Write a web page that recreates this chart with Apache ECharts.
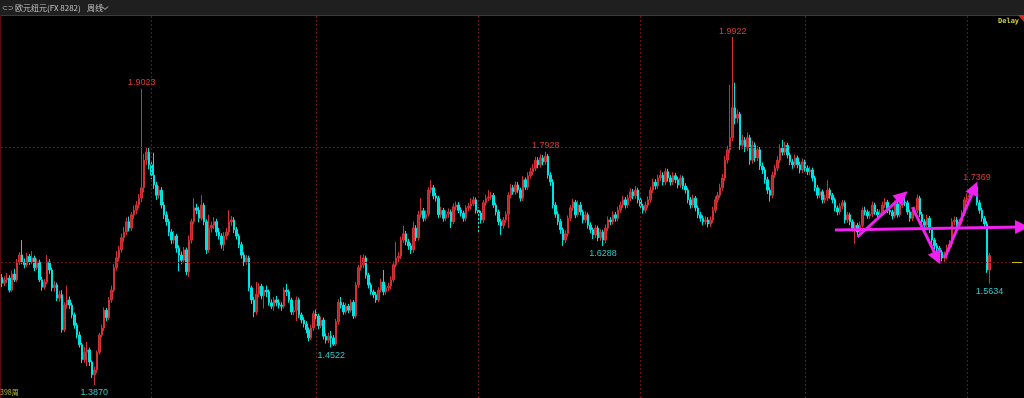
<!DOCTYPE html>
<html><head><meta charset="utf-8">
<script src="https://cdn.jsdelivr.net/npm/echarts/dist/echarts.min.js"></script>
<style>html,body{margin:0;padding:0;background:#000;}#c{width:1024px;height:398px;}</style>
</head><body><div id="c"></div>
<script>
// ---- data (weekly OHLC) ----
const firstOpen = 1.574;
const closes = [
1.564,1.570,1.573,1.552,1.580,1.570,1.601,1.613,1.601,1.596,
1.611,1.601,1.608,1.591,1.601,1.570,1.557,1.566,1.601,1.587,
1.556,1.561,1.538,1.544,1.483,1.526,1.535,1.526,1.509,1.491,
1.474,1.457,1.431,1.444,1.448,1.427,1.405,1.413,1.444,1.474,
1.486,1.517,1.504,1.535,1.552,1.591,1.608,1.622,1.643,1.653,
1.671,1.660,1.683,1.691,1.700,1.712,1.730,1.778,1.792,1.770,
1.752,1.735,1.717,1.726,1.700,1.683,1.671,1.653,1.639,1.646,
1.625,1.613,1.604,1.622,1.584,1.639,1.671,1.695,1.691,1.677,
1.700,1.671,1.622,1.660,1.665,1.671,1.653,1.646,1.631,1.646,
1.653,1.671,1.674,1.657,1.646,1.631,1.613,1.601,1.608,1.556,
1.535,1.514,1.545,1.559,1.542,1.552,1.549,1.530,1.524,1.535,
1.530,1.526,1.524,1.552,1.549,1.535,1.514,1.517,1.535,1.509,
1.500,1.493,1.483,1.469,1.486,1.511,1.507,1.490,1.500,1.472,
1.465,1.472,1.469,1.458,1.497,1.531,1.526,1.514,1.524,1.517,
1.531,1.507,1.561,1.591,1.596,1.608,1.578,1.561,1.549,1.544,
1.535,1.552,1.566,1.549,1.556,1.559,1.570,1.596,1.608,1.611,
1.639,1.650,1.636,1.629,1.622,1.660,1.643,1.683,1.690,1.677,
1.684,1.726,1.730,1.716,1.712,1.683,1.691,1.677,1.684,1.688,
1.671,1.697,1.700,1.691,1.686,1.677,1.695,1.698,1.702,1.709,
1.691,1.686,1.674,1.704,1.712,1.714,1.717,1.700,1.688,1.671,
1.664,1.674,1.684,1.717,1.730,1.723,1.735,1.726,1.712,1.744,
1.731,1.751,1.758,1.764,1.778,1.770,1.782,1.775,1.785,1.752,
1.740,1.700,1.684,1.671,1.657,1.639,1.650,1.677,1.695,1.705,
1.683,1.700,1.688,1.674,1.683,1.665,1.657,1.648,1.660,1.643,
1.653,1.639,1.660,1.674,1.671,1.683,1.677,1.691,1.700,1.709,
1.700,1.712,1.723,1.716,1.726,1.709,1.698,1.691,1.700,1.709,
1.726,1.740,1.733,1.747,1.752,1.740,1.758,1.747,1.740,1.751,
1.744,1.735,1.747,1.733,1.726,1.709,1.700,1.712,1.695,1.683,
1.677,1.671,1.674,1.667,1.674,1.691,1.709,1.717,1.730,1.747,
1.778,1.796,1.817,1.869,1.851,1.858,1.804,1.813,1.799,1.817,
1.778,1.804,1.782,1.796,1.768,1.761,1.744,1.726,1.717,1.752,
1.764,1.778,1.799,1.792,1.804,1.787,1.775,1.770,1.782,1.770,
1.761,1.775,1.764,1.758,1.761,1.747,1.730,1.717,1.723,1.709,
1.712,1.726,1.717,1.709,1.695,1.688,1.698,1.704,1.674,1.683,
1.671,1.660,1.665,1.653,1.665,1.691,1.688,1.681,1.684,1.700,
1.688,1.683,1.686,1.700,1.705,1.691,1.688,1.681,1.702,1.683,
1.700,1.705,1.704,1.688,1.677,1.688,1.691,1.712,1.684,1.671,
1.665,1.677,1.657,1.639,1.629,1.625,1.618,1.608,1.613,1.625,
1.632,1.671,1.674,1.664,1.671,1.686,1.709,1.714,1.717,1.726,
1.731,1.704,1.691,1.677,1.667,1.587,1.612
];
const highs = [
1.580,1.576,1.582,1.578,1.586,1.589,1.606,1.618,1.639,1.607,
1.617,1.615,1.620,1.612,1.607,1.605,1.575,1.571,1.613,1.606,
1.591,1.568,1.565,1.551,1.552,1.531,1.560,1.541,1.530,1.513,
1.495,1.480,1.460,1.453,1.462,1.452,1.430,1.419,1.447,1.478,
1.492,1.522,1.521,1.540,1.560,1.597,1.620,1.629,1.650,1.662,
1.678,1.680,1.688,1.699,1.707,1.719,1.9023,1.789,1.800,1.799,
1.778,1.791,1.740,1.733,1.731,1.705,1.689,1.676,1.658,1.655,
1.650,1.630,1.619,1.627,1.626,1.647,1.676,1.712,1.702,1.697,
1.717,1.704,1.675,1.683,1.671,1.679,1.676,1.660,1.651,1.653,
1.660,1.691,1.681,1.679,1.662,1.650,1.636,1.618,1.613,1.612,
1.560,1.540,1.566,1.564,1.563,1.558,1.560,1.553,1.536,1.540,
1.542,1.536,1.531,1.557,1.563,1.553,1.539,1.523,1.541,1.539,
1.513,1.505,1.498,1.487,1.492,1.516,1.518,1.511,1.506,1.504,
1.477,1.478,1.481,1.474,1.502,1.536,1.540,1.531,1.530,1.528,
1.536,1.535,1.566,1.596,1.613,1.614,1.612,1.582,1.565,1.553,
1.549,1.557,1.572,1.587,1.561,1.565,1.576,1.602,1.636,1.618,
1.645,1.664,1.655,1.641,1.634,1.671,1.665,1.690,1.712,1.695,
1.690,1.731,1.743,1.735,1.721,1.716,1.697,1.695,1.690,1.694,
1.692,1.703,1.706,1.705,1.696,1.690,1.700,1.704,1.712,1.715,
1.713,1.696,1.690,1.709,1.718,1.726,1.723,1.721,1.704,1.692,
1.676,1.679,1.689,1.722,1.736,1.735,1.741,1.740,1.730,1.750,
1.748,1.757,1.765,1.771,1.784,1.783,1.788,1.787,1.7928,1.789,
1.757,1.745,1.705,1.689,1.676,1.661,1.656,1.682,1.700,1.711,
1.709,1.708,1.705,1.692,1.689,1.687,1.670,1.661,1.665,1.664,
1.658,1.657,1.666,1.680,1.679,1.689,1.688,1.697,1.706,1.716,
1.714,1.718,1.729,1.728,1.733,1.730,1.713,1.702,1.706,1.715,
1.732,1.746,1.745,1.753,1.760,1.757,1.764,1.763,1.752,1.757,
1.756,1.749,1.752,1.751,1.738,1.730,1.714,1.718,1.716,1.699,
1.688,1.682,1.680,1.679,1.680,1.697,1.715,1.723,1.737,1.754,
1.785,1.803,1.909,1.9922,1.913,1.866,1.862,1.822,1.818,1.826,
1.822,1.812,1.809,1.803,1.801,1.774,1.766,1.749,1.731,1.758,
1.770,1.785,1.806,1.813,1.810,1.808,1.791,1.780,1.788,1.786,
1.775,1.781,1.779,1.769,1.767,1.765,1.751,1.735,1.729,1.727,
1.718,1.743,1.730,1.721,1.713,1.699,1.703,1.709,1.708,1.688,
1.687,1.675,1.670,1.669,1.671,1.696,1.697,1.692,1.690,1.706,
1.704,1.693,1.692,1.706,1.712,1.709,1.696,1.692,1.708,1.706,
1.705,1.711,1.712,1.708,1.692,1.694,1.697,1.718,1.716,1.688,
1.676,1.683,1.681,1.661,1.643,1.634,1.629,1.622,1.619,1.631,
1.639,1.677,1.680,1.679,1.676,1.691,1.714,1.720,1.723,1.731,
1.735,1.7369,1.709,1.695,1.681,1.672,1.617
];
const lows = [
1.557,1.559,1.565,1.548,1.549,1.566,1.566,1.596,1.597,1.590,
1.592,1.596,1.597,1.585,1.587,1.566,1.551,1.553,1.562,1.580,
1.550,1.549,1.533,1.532,1.478,1.479,1.520,1.519,1.503,1.485,
1.468,1.452,1.425,1.426,1.420,1.420,1.399,1.387,1.408,1.440,
1.470,1.481,1.498,1.500,1.530,1.548,1.586,1.602,1.617,1.636,
1.648,1.654,1.655,1.676,1.684,1.694,1.705,1.722,1.770,1.762,
1.745,1.728,1.709,1.711,1.694,1.676,1.664,1.646,1.632,1.633,
1.617,1.585,1.597,1.600,1.578,1.575,1.633,1.666,1.684,1.670,
1.673,1.665,1.615,1.617,1.652,1.658,1.646,1.640,1.624,1.620,
1.640,1.648,1.664,1.651,1.640,1.625,1.607,1.594,1.596,1.550,
1.528,1.505,1.509,1.540,1.536,1.520,1.540,1.525,1.519,1.516,
1.524,1.520,1.516,1.520,1.542,1.530,1.509,1.508,1.498,1.503,
1.494,1.487,1.477,1.463,1.465,1.481,1.501,1.484,1.486,1.466,
1.459,1.460,1.4522,1.455,1.455,1.492,1.520,1.509,1.510,1.512,
1.513,1.502,1.503,1.556,1.586,1.590,1.572,1.555,1.544,1.538,
1.530,1.531,1.548,1.543,1.544,1.550,1.553,1.566,1.592,1.601,
1.606,1.634,1.630,1.622,1.615,1.617,1.637,1.638,1.678,1.671,
1.672,1.680,1.721,1.710,1.706,1.677,1.678,1.671,1.672,1.678,
1.660,1.667,1.691,1.686,1.680,1.671,1.672,1.689,1.692,1.698,
1.685,1.652,1.668,1.669,1.699,1.707,1.709,1.695,1.682,1.665,
1.648,1.659,1.669,1.660,1.712,1.718,1.718,1.721,1.706,1.707,
1.726,1.726,1.746,1.752,1.759,1.764,1.765,1.769,1.770,1.746,
1.733,1.694,1.678,1.665,1.650,1.629,1.634,1.645,1.672,1.690,
1.677,1.679,1.682,1.668,1.669,1.659,1.651,1.641,1.643,1.637,
1.638,1.6288,1.634,1.655,1.665,1.666,1.671,1.672,1.686,1.695,
1.694,1.695,1.707,1.710,1.711,1.703,1.692,1.685,1.686,1.695,
1.704,1.721,1.727,1.728,1.742,1.734,1.735,1.741,1.734,1.735,
1.738,1.729,1.730,1.727,1.720,1.703,1.694,1.695,1.689,1.677,
1.671,1.665,1.666,1.661,1.662,1.669,1.686,1.704,1.712,1.725,
1.742,1.772,1.790,1.811,1.840,1.842,1.796,1.798,1.792,1.794,
1.770,1.772,1.775,1.776,1.761,1.754,1.737,1.719,1.706,1.712,
1.747,1.759,1.773,1.786,1.787,1.781,1.769,1.763,1.765,1.764,
1.755,1.756,1.758,1.752,1.752,1.741,1.724,1.711,1.712,1.703,
1.703,1.707,1.711,1.703,1.689,1.682,1.683,1.693,1.668,1.669,
1.665,1.654,1.632,1.647,1.648,1.661,1.682,1.676,1.676,1.679,
1.683,1.678,1.678,1.681,1.695,1.686,1.683,1.675,1.677,1.678,
1.679,1.695,1.698,1.683,1.671,1.672,1.683,1.686,1.679,1.665,
1.659,1.660,1.651,1.633,1.622,1.619,1.612,1.602,1.601,1.606,
1.619,1.627,1.665,1.658,1.659,1.666,1.681,1.704,1.709,1.712,
1.721,1.699,1.685,1.671,1.660,1.582,1.5634
];
// category slots (bars + empty space to the right edge)
const totalSlots = 410;
// labelled extremes: [bar index, 'high' | 'low']
const extremes = [[56,'high'],[293,'high'],[218,'high'],[391,'high'],[37,'low'],[132,'low'],[241,'low'],[396,'low']];
// hand-drawn annotation arrows in data space: [[index, price],[index, price]]
const arrows = [
  [[334,1.6565],[409,1.6618]],
  [[343,1.6444],[361,1.7157]],
  [[365,1.6965],[375,1.6079]],
  [[378,1.6079],[390,1.7296]]
];
const hGrid = [1.7992, 1.5957];
const vGrid = [60,126,191,256,322,387];
const lastPrice = 1.601;

// ---- build ----
const cats = [];
for (let i = 0; i < totalSlots; i++) cats.push(String(i));
const ohlc = closes.map((c, i) => [i === 0 ? firstOpen : closes[i - 1], c, lows[i], highs[i]]);
const blanks = cats.map(() => null);

const chart = echarts.init(document.getElementById('c'), null, {renderer: 'canvas'});
const option = {
  backgroundColor: '#000',
  animation: false,
  grid: {left: 0.75, top: 15, width: 1022.5, height: 383},
  xAxis: {type: 'category', data: cats, boundaryGap: true, show: false},
  yAxis: {type: 'value', min: 1.3644, max: 2.0305, show: false, splitLine: {show: false}},
  series: [
    {
      type: 'line', data: blanks, z: 1, silent: true, showSymbol: false,
      markLine: {
        silent: true, symbol: ['none', 'none'], label: {show: false},
        lineStyle: {color: '#6e1111', type: [2, 2], width: 1},
        data: hGrid.map(v => ({yAxis: v})).concat(vGrid.map(i => ({xAxis: i})))
      }
    },
    {
      type: 'candlestick', data: ohlc, barWidth: 2, z: 2,
      itemStyle: {color: '#b8262a', color0: '#00dcdc', borderColor: '#d23236', borderColor0: '#00e4e4', borderWidth: 1},
      markPoint: {
        symbol: 'circle', symbolSize: 1, itemStyle: {color: 'rgba(0,0,0,0)'},
        data: extremes.map(([i, k]) => {
          const v = k === 'high' ? highs[i] : lows[i];
          return {
            coord: [i, v], value: v.toFixed(4),
            label: {
              show: true, position: k === 'high' ? 'top' : 'bottom', distance: k === 'high' ? 1 : 3,
              color: k === 'high' ? '#d83a3a' : '#35c6c6', fontSize: 9, fontFamily: 'Liberation Sans',
              formatter: '{c}'
            }
          };
        })
      }
    },
    {
      type: 'line', data: blanks, z: 5, silent: true, showSymbol: false,
      markLine: {
        silent: true, symbol: ['none', 'triangle'], symbolSize: 14, label: {show: false},
        lineStyle: {color: '#f020f0', type: 'solid', width: 3},
        itemStyle: {color: '#f020f0'},
        data: arrows.map(([a, b]) => [
          {coord: a, symbol: 'none'},
          {coord: b, symbol: 'triangle', symbolSize: 14, itemStyle: {color: '#f020f0'}}
        ])
      }
    },
    {
      type: 'line', data: blanks, z: 4, silent: true, showSymbol: false,
      markLine: {
        silent: true, symbol: ['none', 'none'], label: {show: false},
        lineStyle: {color: '#c8c800', type: 'solid', width: 1},
        data: [[{coord: [405, lastPrice]}, {coord: [409, lastPrice]}]]
      }
    }
  ],
  graphic: [
    {type: 'rect', z: 100, shape: {x: 0, y: 0, width: 1024, height: 15}, style: {fill: '#1f1f1f'}},
    {type: 'line', z: 101, shape: {x1: 0, y1: 15.5, x2: 1024, y2: 15.5}, style: {stroke: '#9a1212', lineWidth: 1}},
    {type: 'line', z: 101, shape: {x1: 0.5, y1: 15, x2: 0.5, y2: 398}, style: {stroke: '#5c0c0c', lineWidth: 1}},
    {type: 'text', z: 102, x: 2, y: 8, style: {text: '⊂⊃', fill: '#bdbdbd', font: '7px "DejaVu Sans"', verticalAlign: 'middle'}},
    {type: 'text', z: 102, x: 15, y: 8, style: {text: '欧元纽元(FX 8282)', fill: '#c4c4c4', font: '8px "Noto Sans CJK SC"', verticalAlign: 'middle'}},
    {type: 'text', z: 102, x: 87, y: 8, style: {text: '周线', fill: '#c4c4c4', font: '8px "Noto Sans CJK SC"', verticalAlign: 'middle'}},
    {type: 'polyline', z: 102, shape: {points: [[102, 6.5], [105, 9.5], [108, 6.5]]}, style: {stroke: '#c4c4c4', lineWidth: 1, fill: null}},
    {type: 'text', z: 102, x: 998, y: 21, style: {text: 'Delay', fill: '#cccc44', font: 'bold 7px "DejaVu Sans Mono"', verticalAlign: 'middle'}},
    {type: 'polygon', z: 102, shape: {points: [[1018, 15], [1024, 15], [1024, 22]]}, style: {fill: '#e02020'}},
    {type: 'text', z: 102, x: 0, y: 392, style: {text: '398周', fill: '#bcbc38', font: '7px "Noto Sans CJK SC"', verticalAlign: 'middle'}}
  ]
};
chart.setOption(option);
</script>
</body></html>
